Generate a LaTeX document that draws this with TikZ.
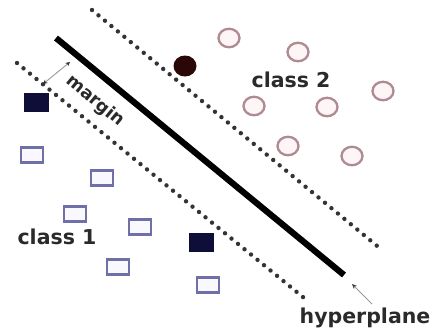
\documentclass[tikz,border=0pt]{standalone}
\usepackage{fontspec}
\setmainfont{DejaVu Sans}
\usetikzlibrary{arrows.meta,shapes.geometric}
\definecolor{pinkedge}{HTML}{B08A92}
\definecolor{pinkfill}{HTML}{FDF5F6}
\definecolor{blueedge}{HTML}{7070A8}
\definecolor{bluefill}{HTML}{F8F8FE}
\definecolor{navy}{HTML}{0E0E38}
\definecolor{support}{HTML}{2A0808}
\definecolor{labelgray}{HTML}{2A2A2A}
\tikzset{
  pt2/.style={ellipse, draw=pinkedge, fill=pinkfill, line width=2.3pt, minimum width=21pt, minimum height=18.5pt, inner sep=0pt},
  pt1/.style={rectangle, draw=blueedge, fill=bluefill, line width=2.2pt, minimum width=22pt, minimum height=15pt, inner sep=0pt},
  sv1/.style={rectangle, fill=navy, minimum width=25pt, minimum height=19pt, inner sep=0pt},
  sv2/.style={ellipse, fill=support, minimum width=23pt, minimum height=21pt, inner sep=0pt},
  lbl/.style={text=labelgray, font=\bfseries\fontsize{20.5}{23}\selectfont, inner sep=0pt},
  dotline/.style={line width=4.4pt, line cap=round, dash pattern=on 0pt off 8.4pt, black!80},
  plane/.style={line width=6.2pt, black},
  pointer/.style={line width=0.9pt, black!40}
}
\begin{document}
\begin{tikzpicture}[x=1pt, y=-1pt]
\useasboundingbox (0,0) rectangle (434,330);

% margin boundaries and separating hyperplane
\coordinate (u1) at (92,10);   \coordinate (u2) at (382,250);
\coordinate (l1) at (17,63);   \coordinate (l2) at (309,302);
\coordinate (h1) at (56,38);   \coordinate (h2) at (344,275);
\draw[dotline] (u1) -- (u2);
\draw[dotline] (l1) -- (l2);
\draw[plane] (h1) -- (h2);

% class 2 samples
\node[pt2] (c1) at (229,38) {};
\node[pt2] (c2) at (298,52) {};
\node[pt2] (c3) at (254,106) {};
\node[pt2] (c4) at (327,107) {};
\node[pt2] (c5) at (383,91) {};
\node[pt2] (c6) at (288,146) {};
\node[pt2] (c7) at (352,156) {};
\node[sv2] (s2) at (185,66) {};

% class 1 samples
\node[sv1] (s1) at (36,102) {};
\node[sv1] (s3) at (201,242) {};
\node[pt1] (q1) at (32,155) {};
\node[pt1] (q2) at (102,178) {};
\node[pt1] (q3) at (75,214) {};
\node[pt1] (q4) at (140,227) {};
\node[pt1] (q5) at (118,267) {};
\node[pt1] (q6) at (208,285) {};

% labels
\node[lbl] (t2) at (291,80) {class 2};
\node[lbl] (t1) at (57,237) {class 1};
\node[lbl, font=\bfseries\fontsize{17.5}{19}\selectfont, rotate=-39.5] (tm) at (95,101) {margin};
\node[lbl] (th) at (365,318) {hyperplane};

% margin width marker and hyperplane pointer
\coordinate (m1) at (70,62);
\coordinate (m2) at (43,84);
\draw[pointer, {Stealth[length=4.5pt,width=4.5pt,black!80]}-{Stealth[length=4.5pt,width=4.5pt,black!80]}] (m1) -- (m2);
\coordinate (p1) at (352,284);
\coordinate (p2) at (372,304);
\draw[pointer, {Stealth[length=5pt,width=4.5pt,black!75]}-] (p1) -- (p2);
\end{tikzpicture}
\end{document}
